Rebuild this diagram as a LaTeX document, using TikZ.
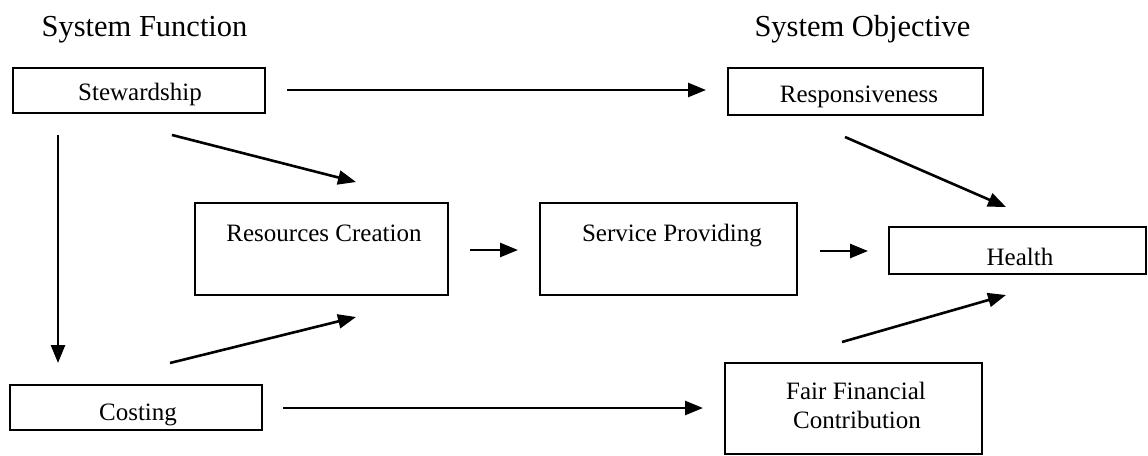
\documentclass[tikz,border=0pt]{standalone}
\usepackage{fontspec}
\setmainfont{Liberation Serif}
\usetikzlibrary{arrows.meta}

\begin{document}
\begin{tikzpicture}[x=1pt, y=-1pt,
  box/.style={draw, line width=2pt, inner sep=0pt},
  lbl/.style={font=\fontsize{25}{28}\selectfont, inner sep=0pt, anchor=base},
  ttl/.style={font=\fontsize{30.5}{34}\selectfont, inner sep=0pt, anchor=base},
  arr/.style={line width=2.6pt, -{Triangle[length=18pt,width=14pt]}}]

  \useasboundingbox (0,0) rectangle (1148,455);

  % column headings
  \node[ttl] (tfun) at (144.5,36) {System Function};
  \node[ttl] (tobj) at (862.5,36) {System Objective};

  % boxes
  \node[box, minimum width=252pt, minimum height=45pt] (stew)   at (139,90.5)   {};
  \node[box, minimum width=255pt, minimum height=47pt] (resp)   at (855.5,91.5) {};
  \node[box, minimum width=253pt, minimum height=92pt] (res)    at (321.5,249)  {};
  \node[box, minimum width=257pt, minimum height=92pt] (serv)   at (668.5,249)  {};
  \node[box, minimum width=257pt, minimum height=47pt] (health) at (1017,250.5) {};
  \node[box, minimum width=252pt, minimum height=45pt] (cost)   at (136,407.5)  {};
  \node[box, minimum width=257pt, minimum height=91pt] (fair)   at (853.5,408.5){};

  % box labels
  \node[lbl] (lstew)   at (140,100)  {Stewardship};
  \node[lbl] (lresp)   at (859,102)  {Responsiveness};
  \node[lbl] (lres)    at (324,241)  {Resources Creation};
  \node[lbl] (lserv)   at (672,241)  {Service Providing};
  \node[lbl] (lhealth) at (1020,265) {Health};
  \node[lbl] (lcost)   at (138,420)  {Costing};
  \node[lbl] (lfair1)  at (856,399)  {Fair Financial};
  \node[lbl] (lfair2)  at (857,428)  {Contribution};

  % arrow end points
  \coordinate (a1) at (287,90);   \coordinate (b1) at (706,90);
  \coordinate (a2) at (58,135);   \coordinate (b2) at (58,363);
  \coordinate (a3) at (172,135);  \coordinate (b3) at (356,182);
  \coordinate (a4) at (170,363);  \coordinate (b4) at (356,317);
  \coordinate (a5) at (470,250);  \coordinate (b5) at (518,250);
  \coordinate (a6) at (820,251);  \coordinate (b6) at (868,251);
  \coordinate (a7) at (845,137);  \coordinate (b7) at (1006,207);
  \coordinate (a8) at (842,342);  \coordinate (b8) at (1006,295);
  \coordinate (a9) at (283,408);  \coordinate (b9) at (703,408);

  % connectors
  \draw[arr] (a1) -- (b1);
  \draw[arr] (a2) -- (b2);
  \draw[arr] (a3) -- (b3);
  \draw[arr] (a4) -- (b4);
  \draw[arr] (a5) -- (b5);
  \draw[arr] (a6) -- (b6);
  \draw[arr] (a7) -- (b7);
  \draw[arr] (a8) -- (b8);
  \draw[arr] (a9) -- (b9);
\end{tikzpicture}
\end{document}
